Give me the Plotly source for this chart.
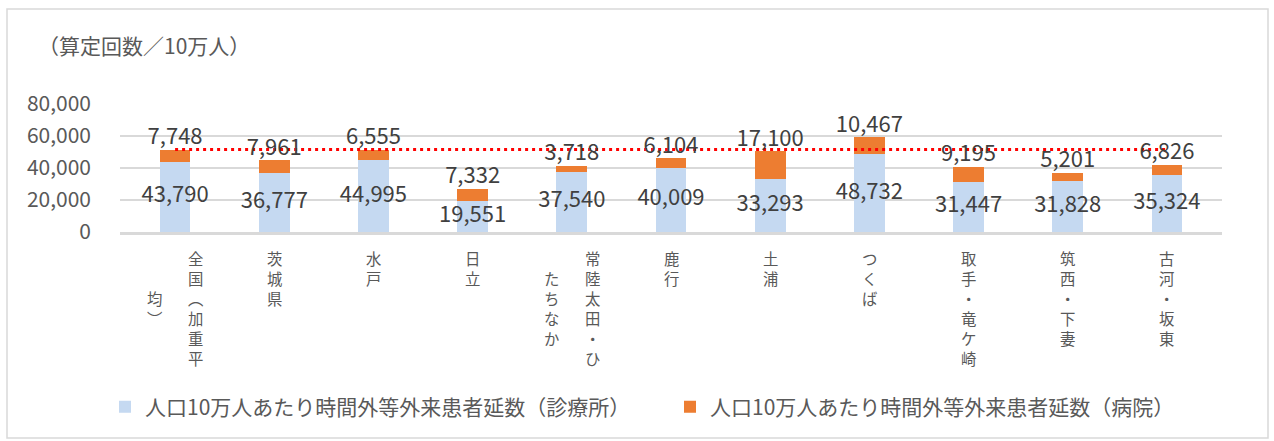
import plotly.graph_objects as go

categories = ["全国（加重平均）", "茨城県", "水戸", "日立", "常陸太田・ひたちなか", "鹿行", "土浦", "つくば", "取手・竜ケ崎", "筑西・下妻", "古河・坂東"]
clinic = [43790, 36777, 44995, 19551, 37540, 40009, 33293, 48732, 31447, 31828, 35324]
hospital = [7748, 7961, 6555, 7332, 3718, 6104, 17100, 10467, 9195, 5201, 6826]
series_names = ["人口10万人あたり時間外等外来患者延数（診療所）", "人口10万人あたり時間外等外来患者延数（病院）"]
y_title = "（算定回数／10万人）"
y_ticks = [0, 20000, 40000, 60000, 80000]

BLUE = "#C5D9F1"
ORANGE = "#ED7D31"
TXT = "#404040"
AX = "#595959"
FONT = "Noto Sans CJK JP"

W, H = 1274, 441
L, R, T, B = 120, 52, 104, 209
PW, PH = W - L - R, H - T - B


def px_x(p):
    return (p - L) / PW


def px_y(p):
    return (H - B - p) / PH


national = clinic[0] + hospital[0]
totals = [c + h for c, h in zip(clinic, hospital)]

fig = go.Figure()
fig.add_trace(go.Bar(x=categories, y=clinic, name=series_names[0], marker_color=BLUE,
                     marker_line_width=0, width=0.31))
fig.add_trace(go.Bar(x=categories, y=hospital, name=series_names[1], marker_color=ORANGE,
                     marker_line_width=0, width=0.31))
fig.add_trace(go.Scatter(x=categories, y=[national] * len(categories), mode="lines",
                         line=dict(color="#FF0000", width=3, dash="3px,4px"),
                         showlegend=False, hoverinfo="skip"))
fig.add_trace(go.Scatter(x=categories, y=[c / 2 for c in clinic], mode="text",
                         text=[f"{v:,}" for v in clinic], textposition="middle center",
                         textfont=dict(size=22, color=TXT, family=FONT),
                         showlegend=False, hoverinfo="skip", cliponaxis=False))
fig.add_trace(go.Scatter(x=categories, y=totals, mode="text",
                         text=[f"{v:,}" for v in hospital], textposition="top center",
                         textfont=dict(size=22, color=TXT, family=FONT),
                         showlegend=False, hoverinfo="skip", cliponaxis=False))

# vertical (tategaki) category labels: one annotation per column, right-to-left
vert_map = {"（": "︵", "）": "︶"}
annotations = []
per_col = 6
pitch = 20  # 1.3 * font size
vfont = pitch / 1.3
col_gap = 41
for cat in categories:
    chars = [vert_map.get(ch, ch) for ch in cat]
    cols = [chars[k:k + per_col] for k in range(0, len(chars), per_col)]
    maxlen = max(len(c) for c in cols)
    ncol = len(cols)
    for j, col in enumerate(cols):
        xs = (ncol - 1) / 2 * col_gap - j * col_gap
        off = (maxlen - len(col)) / 2
        annotations.append(dict(x=cat, xref="x", y=0, yref="paper", text="<br>".join(col),
                                showarrow=False, xanchor="center", yanchor="top",
                                xshift=xs, yshift=-(13 + off * pitch),
                                font=dict(size=vfont, color=AX, family=FONT)))

annotations.append(dict(x=px_x(36), xref="paper", y=px_y(45), yref="paper", text=y_title,
                        showarrow=False, xanchor="left", yanchor="middle",
                        font=dict(size=21, color=AX, family=FONT)))

fig.update_layout(
    width=W, height=H,
    margin=dict(l=L, r=R, t=T, b=B, autoexpand=False),
    paper_bgcolor="white", plot_bgcolor="white",
    barmode="stack", bargap=0.69,
    font=dict(family=FONT, color=AX),
    showlegend=True,
    legend=dict(orientation="h", x=px_x(105), xanchor="left", y=px_y(407), yanchor="middle",
                font=dict(size=21, color=AX, family=FONT), entrywidth=520, itemwidth=30,
                traceorder="normal", bgcolor="rgba(0,0,0,0)"),
    annotations=annotations,
    shapes=[dict(type="rect", xref="paper", yref="paper",
                 x0=px_x(7), x1=px_x(1268), y0=px_y(438), y1=px_y(9),
                 line=dict(color="#D9D9D9", width=1.5), fillcolor="rgba(0,0,0,0)", layer="below")],
)
fig.update_xaxes(showticklabels=False, showgrid=False, showline=True, linecolor="#D9D9D9",
                 linewidth=2.5, ticks="", zeroline=False)
fig.update_yaxes(range=[0, 80000], tickvals=y_ticks, ticktext=[f"{v:,}" for v in y_ticks],
                 showgrid=True, gridcolor="#D9D9D9", gridwidth=1.5, zeroline=False,
                 showline=False, ticks="", tickfont=dict(size=21, color=AX, family=FONT),
                 ticklabelstandoff=28)

fig.write_html("out.html", config={"displayModeBar": False},
               post_script="document.body.style.margin='0';document.body.style.overflow='hidden';")
